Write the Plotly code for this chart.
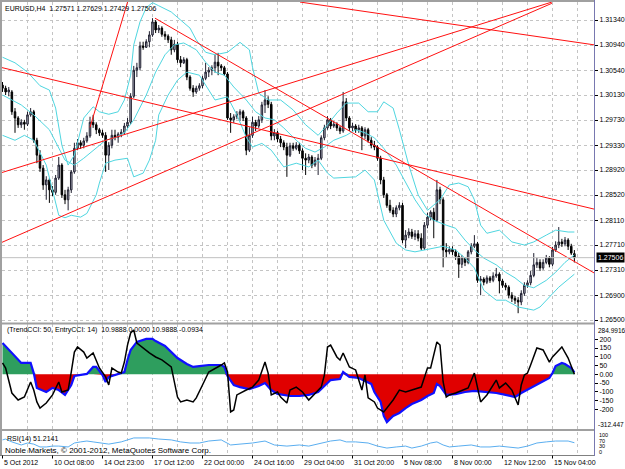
import plotly.graph_objects as go

# ---------------- data ----------------
OPEN = [1.3029,1.3024,1.3018,1.3018,1.2986,1.2976,1.2965,1.2969,1.2966,1.2981,
        1.2986,1.2940,1.2916,1.2895,1.2868,1.2876,1.2860,1.2856,1.2879,1.2900,
        1.2852,1.2844,1.2860,1.2889,1.2927,1.2936,1.2932,1.2939,1.2947,1.2969,
        1.2965,1.2957,1.2952,1.2948,1.2916,1.2932,1.2948,1.2945,1.2950,1.2953,
        1.2963,1.2969,1.3011,1.3053,1.3057,1.3092,1.3090,1.3099,1.3110,1.3131,
        1.3118,1.3121,1.3111,1.3108,1.3102,1.3086,1.3095,1.3070,1.3065,1.3070,
        1.3042,1.3024,1.3018,1.3024,1.3028,1.3040,1.3050,1.3053,1.3057,1.3066,
        1.3060,1.3057,1.3047,1.2976,1.2973,1.2978,1.2982,1.2986,1.2976,1.2924,
        1.2948,1.2969,1.2963,1.2973,1.2997,1.3005,1.2998,1.2947,1.2952,1.2942,
        1.2936,1.2929,1.2916,1.2931,1.2927,1.2932,1.2923,1.2911,1.2908,1.2913,
        1.2900,1.2908,1.2911,1.2944,1.2960,1.2973,1.2963,1.2966,1.2960,1.2955,
        1.3002,1.2976,1.2960,1.2963,1.2957,1.2960,1.2947,1.2957,1.2940,1.2932,
        1.2929,1.2911,1.2876,1.2852,1.2835,1.2827,1.2821,1.2831,1.2835,1.2779,
        1.2787,1.2792,1.2785,1.2789,1.2782,1.2766,1.2803,1.2816,1.2824,1.2811,
        1.2860,1.2844,1.2763,1.2760,1.2764,1.2760,1.2753,1.2740,1.2750,1.2743,
        1.2760,1.2769,1.2773,1.2714,1.2716,1.2711,1.2718,1.2714,1.2721,1.2724,
        1.2713,1.2706,1.2703,1.2690,1.2685,1.2682,1.2679,1.2693,1.2706,1.2710,
        1.2722,1.2739,1.2743,1.2734,1.2743,1.2750,1.2740,1.2763,1.2771,1.2776,
        1.2773,1.2779,1.2769,1.27571]
HIGH = [1.3034,1.3028,1.3026,1.3021,1.2992,1.2979,1.2974,1.2973,1.2986,1.2992,
        1.2989,1.2944,1.2924,1.2900,1.2882,1.2879,1.2866,1.2884,1.2913,1.2903,
        1.2860,1.2865,1.2892,1.2936,1.2942,1.2940,1.2944,1.2953,1.2978,1.2981,
        1.2969,1.2960,1.2957,1.2953,1.2937,1.2957,1.2957,1.2953,1.2958,1.2968,
        1.2976,1.3016,1.3060,1.3065,1.3099,1.3099,1.3103,1.3116,1.3137,1.3134,
        1.3126,1.3124,1.3116,1.3111,1.3107,1.3102,1.3099,1.3076,1.3074,1.3073,
        1.3045,1.3029,1.3028,1.3032,1.3044,1.3065,1.3058,1.3061,1.3078,1.3081,
        1.3063,1.3060,1.3050,1.2984,1.2982,1.2987,1.2990,1.2989,1.2979,1.2961,
        1.2978,1.2973,1.2979,1.3002,1.3021,1.3011,1.3002,1.2958,1.2955,1.2947,
        1.2940,1.2936,1.2936,1.2936,1.2937,1.2936,1.2927,1.2919,1.2918,1.2916,
        1.2913,1.2918,1.2948,1.2965,1.2979,1.2976,1.2971,1.2969,1.2963,1.3018,
        1.3008,1.2979,1.2968,1.2966,1.2965,1.2963,1.2961,1.2960,1.2945,1.2939,
        1.2932,1.2915,1.2881,1.2855,1.2844,1.2832,1.2835,1.2840,1.2839,1.2795,
        1.2798,1.2797,1.2795,1.2795,1.2790,1.2808,1.2823,1.2827,1.2831,1.2876,
        1.2865,1.2848,1.2774,1.2769,1.2769,1.2764,1.2758,1.2755,1.2751,1.2763,
        1.2774,1.2787,1.2776,1.2721,1.2719,1.2722,1.2721,1.2727,1.2734,1.2727,
        1.2716,1.2710,1.2706,1.2695,1.2689,1.2687,1.2698,1.2711,1.2714,1.2729,
        1.2758,1.2750,1.2748,1.2748,1.2755,1.2753,1.2768,1.2777,1.2800,1.2781,
        1.2784,1.2782,1.2773,1.27629]
LOW = [1.3018,1.3013,1.3011,1.2981,1.2952,1.2960,1.2960,1.2957,1.2963,1.2978,
       1.2936,1.2903,1.2889,1.2860,1.2844,1.2839,1.2850,1.2852,1.2876,1.2847,
       1.2837,1.2827,1.2855,1.2886,1.2924,1.2926,1.2927,1.2936,1.2944,1.2960,
       1.2950,1.2947,1.2944,1.2889,1.2892,1.2927,1.2940,1.2936,1.2945,1.2950,
       1.2960,1.2966,1.3008,1.3042,1.3053,1.3086,1.3089,1.3090,1.3107,1.3113,
       1.3113,1.3107,1.3102,1.3097,1.3078,1.3082,1.3065,1.3058,1.3063,1.3037,
       1.3020,1.3010,1.3015,1.3020,1.3024,1.3037,1.3042,1.3045,1.3049,1.3045,
       1.3052,1.3044,1.2973,1.2952,1.2968,1.2974,1.2971,1.2971,1.2916,1.2921,
       1.2944,1.2955,1.2960,1.2968,1.2984,1.2992,1.2940,1.2940,1.2937,1.2929,
       1.2924,1.2881,1.2913,1.2923,1.2924,1.2918,1.2892,1.2884,1.2903,1.2895,
       1.2897,1.2884,1.2908,1.2940,1.2957,1.2958,1.2960,1.2955,1.2950,1.2952,
       1.2971,1.2955,1.2955,1.2952,1.2952,1.2924,1.2942,1.2936,1.2927,1.2924,
       1.2907,1.2869,1.2847,1.2831,1.2823,1.2816,1.2816,1.2827,1.2774,1.2766,
       1.2782,1.2781,1.2779,1.2777,1.2763,1.2763,1.2798,1.2811,1.2782,1.2808,
       1.2837,1.2735,1.2751,1.2756,1.2755,1.2747,1.2718,1.2734,1.2737,1.2740,
       1.2756,1.2766,1.2710,1.2690,1.2706,1.2708,1.2710,1.2711,1.2718,1.2693,
       1.2702,1.2698,1.2685,1.2679,1.2676,1.2661,1.2674,1.2689,1.2702,1.2706,
       1.2719,1.2734,1.2729,1.2731,1.2740,1.2735,1.2737,1.2760,1.2766,1.2768,
       1.2769,1.2763,1.2755,1.27429]
CLOSE = [1.3024,1.3018,1.3021,1.2986,1.2976,1.2965,1.2969,1.2966,1.2981,1.2986,
         1.2940,1.2916,1.2895,1.2868,1.2876,1.2860,1.2856,1.2879,1.2900,1.2852,
         1.2844,1.2860,1.2889,1.2927,1.2936,1.2932,1.2939,1.2947,1.2969,1.2965,
         1.2957,1.2952,1.2948,1.2916,1.2932,1.2948,1.2945,1.2950,1.2953,1.2963,
         1.2969,1.3011,1.3053,1.3057,1.3092,1.3090,1.3099,1.3110,1.3131,1.3118,
         1.3121,1.3111,1.3108,1.3102,1.3086,1.3095,1.3070,1.3065,1.3070,1.3042,
         1.3024,1.3018,1.3024,1.3028,1.3040,1.3050,1.3053,1.3057,1.3066,1.3060,
         1.3057,1.3047,1.2976,1.2973,1.2978,1.2982,1.2986,1.2976,1.2924,1.2948,
         1.2969,1.2963,1.2973,1.2997,1.3005,1.2998,1.2947,1.2952,1.2942,1.2936,
         1.2929,1.2916,1.2931,1.2927,1.2932,1.2923,1.2911,1.2908,1.2913,1.2900,
         1.2908,1.2911,1.2944,1.2960,1.2973,1.2963,1.2966,1.2960,1.2955,1.3002,
         1.2976,1.2960,1.2963,1.2957,1.2960,1.2947,1.2957,1.2940,1.2932,1.2929,
         1.2911,1.2876,1.2852,1.2835,1.2827,1.2821,1.2831,1.2835,1.2779,1.2787,
         1.2792,1.2785,1.2789,1.2782,1.2766,1.2803,1.2816,1.2824,1.2811,1.2860,
         1.2844,1.2763,1.2760,1.2764,1.2760,1.2753,1.2740,1.2750,1.2743,1.2760,
         1.2769,1.2773,1.2714,1.2716,1.2711,1.2718,1.2714,1.2721,1.2724,1.2713,
         1.2706,1.2703,1.2690,1.2685,1.2682,1.2679,1.2693,1.2706,1.2710,1.2722,
         1.2739,1.2743,1.2734,1.2743,1.2750,1.2740,1.2763,1.2771,1.2776,1.2773,
         1.2779,1.2769,1.2758,1.27506]

PRICE_TICKS = [1.31340,1.30937,1.30533,1.30130,1.29727,1.29323,1.28920,
               1.28517,1.28113,1.27710,1.27307,1.26903,1.26500]
PRICE_TICK_TEXT = ["1.31340","1.30940","1.30540","1.30130","1.29730","1.29330","1.28920",
                   "1.28520","1.28110","1.27710","1.27310","1.26900","1.26500"]
LAST_PRICE = 1.27506

TIME_LABEL_BARS = [0,16,32,48,64,80,96,112,128,144,160,176]
TIME_LABELS = ["5 Oct 2012","10 Oct 08:00","14 Oct 23:00","17 Oct 12:00","22 Oct 00:00",
               "24 Oct 16:00","29 Oct 04:00","31 Oct 20:00","5 Nov 08:00","8 Nov 00:00",
               "12 Nov 12:00","15 Nov 04:00"]

BB_UP_X = [0,4,8,12,15,17,19,21,23,26,29,31,34,37,39,41,42,44,46,48,50,54,57,60,62,65,68,72,76,79,
           80,82,85,89,93,97,101,104,107,110,114,117,120,122,125,127,130,133,136,140,143,146,149,151,
           153,155,159,163,167,170,174,177,181,183]
BB_UP = [1.3074,1.3065,1.3050,1.3028,1.3021,1.2992,1.2932,1.2900,1.2916,1.2976,1.2994,1.2986,1.2982,
         1.2986,1.3005,1.3045,1.3094,1.3131,1.3154,1.3162,1.3157,1.3147,1.3134,1.3121,1.3102,1.3082,
         1.3078,1.3082,1.3098,1.3086,1.3058,1.3016,1.3005,1.3005,1.2989,1.2965,1.2948,1.2965,1.2984,
         1.3000,1.3000,1.2986,1.2986,1.3002,1.2992,1.2957,1.2900,1.2852,1.2827,1.2844,1.2868,1.2871,
         1.2865,1.2844,1.2803,1.2790,1.2795,1.2776,1.2771,1.2776,1.2787,1.2795,1.2792,1.2792]
BB_MID_X = [0,6,10,15,20,23,26,30,33,36,39,42,46,49,52,55,58,62,65,68,71,74,78,81,84,87,90,94,97,100,
            103,106,110,113,116,119,122,126,129,132,135,138,142,145,148,151,154,158,161,164,167,170,
            174,177,180,183]
BB_MID = [1.3013,1.2997,1.2981,1.2957,1.2908,1.2900,1.2911,1.2927,1.2940,1.2944,1.2952,1.2973,1.3013,
          1.3050,1.3078,1.3094,1.3097,1.3086,1.3066,1.3050,1.3045,1.3026,1.3005,1.2986,1.2976,1.2973,
          1.2960,1.2940,1.2927,1.2921,1.2929,1.2940,1.2948,1.2957,1.2952,1.2944,1.2927,1.2900,1.2871,
          1.2844,1.2822,1.2811,1.2803,1.2798,1.2779,1.2763,1.2750,1.2739,1.2727,1.2718,1.2706,1.2702,
          1.2714,1.2727,1.2743,1.2755]
BB_LOW_X = [0,4,7,10,14,16,18,20,22,25,27,30,31,33,36,40,42,45,47,49,50,53,56,59,63,65,68,72,75,78,
            80,83,86,90,94,98,101,104,106,113,116,119,122,126,129,132,135,138,141,145,148,151,154,158,
            161,165,170,172,175,178,183]
BB_LOW = [1.2948,1.2940,1.2948,1.2940,1.2900,1.2860,1.2819,1.2815,1.2819,1.2816,1.2822,1.2852,1.2871,
          1.2903,1.2908,1.2911,1.2881,1.2887,1.2908,1.2940,1.2981,1.3013,1.3037,1.3050,1.3045,1.3029,
          1.3005,1.3010,1.2981,1.2945,1.2929,1.2935,1.2924,1.2897,1.2903,1.2897,1.2908,1.2887,1.2879,
          1.2881,1.2892,1.2876,1.2811,1.2774,1.2763,1.2760,1.2763,1.2766,1.2769,1.2763,1.2750,1.2734,
          1.2698,1.2682,1.2682,1.2671,1.2666,1.2671,1.2687,1.2703,1.2724]

# red trend lines: (bar0, price0, bar1, price1)
TRENDLINES = [(28.0,1.2961,40.2,1.3166),
              (-0.8,1.3058,189.3,1.2829),
              (48.8,1.3137,189.3,1.2726),
              (-0.8,1.2887,175.8,1.3163),
              (-0.8,1.2774,175.8,1.3161),
              (95.2,1.3163,189.3,1.3094)]

TREND_CCI_X = [0,2,6,9,10,11,14,16,18,20,22,23,25,27,29,30,32,33,34,37,39,40,41,43,46,48,49,52,54,56,
               59,61,63,66,70,71,72,74,76,79,82,84,86,88,92,95,98,101,103,105,108,109,111,114,116,118,
               119,121,122,123,125,127,129,131,134,136,138,139,140,142,145,148,151,154,158,161,164,166,
               169,172,175,176,177,179,180,182,183]
TREND_CCI = [179,139,65,65,7,-78,-101,-78,-90,-118,-61,-10,-4,2,42,42,-4,-44,-15,2,13,82,139,185,202,202,
             190,162,127,93,59,42,47,53,53,42,-10,-61,-73,-84,-67,-50,-90,-112,-124,-124,-118,-101,-67,
             -33,-27,13,-15,-21,-38,-55,-101,-158,-238,-273,-238,-221,-193,-170,-147,-124,-107,-55,-67,
             -118,-113,-101,-95,-101,-107,-118,-130,-107,-78,-50,-21,7,47,65,59,36,10.9888]
ENTRY_CCI_X = [0,1,3,5,7,9,10,11,12,14,16,18,19,21,22,23,24,26,27,29,31,33,34,35,37,38,39,40,41,42,
               43,45,47,49,51,54,55,56,57,59,61,62,64,66,70,71,72,73,74,75,78,80,82,84,85,86,88,89,91,
               92,94,96,98,100,102,103,104,105,107,108,109,111,113,115,116,117,119,120,122,123,125,127,
               129,131,134,136,137,139,140,141,142,143,145,149,151,153,155,158,159,161,163,165,166,167,
               168,169,171,173,175,176,179,181,183]
ENTRY_CCI = [65,36,-107,-147,-130,-44,-90,-158,-193,-164,-118,-44,-101,-90,13,127,156,127,93,122,36,-15,
             -61,36,13,7,70,167,236,253,179,150,122,99,82,42,-44,-130,-158,-147,-158,-135,-61,13,53,65,
             13,-215,-204,-118,-90,-73,-33,70,7,-118,-101,-130,-164,-90,-73,-101,-147,-107,-73,-4,156,
             167,99,82,122,42,25,-90,-4,-135,-158,-193,-215,-193,-147,-90,-101,-90,-73,36,36,185,167,
             -44,-130,-118,-107,-78,7,-158,-118,-33,-78,-50,-90,-175,-61,-4,7,53,150,139,70,99,156,93,
             -0.0934]

RSI_X = [0,1,3,6,8,10,12,14,16,18,21,23,25,27,29,31,34,38,40,42,44,47,50,54,57,60,63,66,70,73,76,80,
         84,87,91,95,98,102,105,108,110,113,117,120,123,126,129,131,134,137,139,141,143,146,150,153,
         156,159,162,165,168,171,174,177,181,183]
RSI = [64,68,55,41,50,45,32,32,36,36,32,50,55,59,55,50,45,55,64,73,73,73,68,64,55,50,50,59,64,41,45,
       50,59,41,36,41,36,50,59,64,55,55,50,36,27,32,36,27,36,50,55,41,32,36,41,32,32,36,32,27,36,50,
       55,59,59,51.2141]

# ---------------- layout helpers (pixel geometry) ----------------
W, H = 625, 469
X_LEFT, X_RIGHT = 2, 594
BAR0_PX, BAR_PX = 2.5, 3.125


def fx(px):
    return px / W


def fy(py):
    return 1 - py / H


def bar_at(px):
    return (px - BAR0_PX) / BAR_PX


XR = [bar_at(X_LEFT), bar_at(X_RIGHT)]
bars = list(range(len(CLOSE)))

FONT = "Liberation Sans, Arial, sans-serif"
GRID = "#C4C4C4"
BAND = "#4FD6E0"

fig = go.Figure()

# Bollinger-style bands
for xs, ys in ((BB_UP_X, BB_UP), (BB_MID_X, BB_MID), (BB_LOW_X, BB_LOW)):
    fig.add_trace(go.Scatter(x=xs, y=ys, mode="lines", line=dict(color=BAND, width=1),
                             xaxis="x", yaxis="y", hoverinfo="skip", showlegend=False))

# trend lines
for b0, p0, b1, p1 in TRENDLINES:
    fig.add_trace(go.Scatter(x=[b0, b1], y=[p0, p1], mode="lines",
                             line=dict(color="#FF1010", width=1),
                             xaxis="x", yaxis="y", hoverinfo="skip", showlegend=False))

# candles
fig.add_trace(go.Candlestick(
    x=bars, open=OPEN, high=HIGH, low=LOW, close=CLOSE, xaxis="x", yaxis="y",
    increasing=dict(line=dict(color="#202030", width=1), fillcolor="#B4B4C4"),
    decreasing=dict(line=dict(color="#000000", width=1), fillcolor="#000000"),
    whiskerwidth=0, hoverinfo="skip", showlegend=False))

# CCI pane
pos = [max(v, 0) for v in TREND_CCI]
neg = [min(v, 0) for v in TREND_CCI]
fig.add_trace(go.Scatter(x=TREND_CCI_X, y=pos, mode="lines", line=dict(width=0, color="#2E9E5E"),
                         fill="tozeroy", fillcolor="#2E9E5E", xaxis="x2", yaxis="y2",
                         hoverinfo="skip", showlegend=False))
fig.add_trace(go.Scatter(x=TREND_CCI_X, y=neg, mode="lines", line=dict(width=0, color="#E00000"),
                         fill="tozeroy", fillcolor="#E00000", xaxis="x2", yaxis="y2",
                         hoverinfo="skip", showlegend=False))
fig.add_trace(go.Scatter(x=TREND_CCI_X, y=TREND_CCI, mode="lines", line=dict(width=2.2, color="#1010FF"),
                         xaxis="x2", yaxis="y2", hoverinfo="skip", showlegend=False))
fig.add_trace(go.Scatter(x=ENTRY_CCI_X, y=ENTRY_CCI, mode="lines", line=dict(width=1.5, color="#000000"),
                         xaxis="x2", yaxis="y2", hoverinfo="skip", showlegend=False))

# RSI pane
fig.add_trace(go.Scatter(x=RSI_X, y=RSI, mode="lines", line=dict(width=1, color="#5AAEF0"),
                         xaxis="x3", yaxis="y3", hoverinfo="skip", showlegend=False))

xgrid = dict(range=XR, domain=[fx(X_LEFT), fx(X_RIGHT)], showgrid=True, gridcolor=GRID,
             griddash="3px,3px", gridwidth=1, tickmode="linear", tick0=0, dtick=8,
             showticklabels=False, ticks="", zeroline=False, showline=False, fixedrange=True,
             rangeslider=dict(visible=False))
fig.update_layout(
    width=W, height=H, margin=dict(l=0, r=0, t=0, b=0),
    paper_bgcolor="white", plot_bgcolor="white",
    font=dict(family=FONT, size=7, color="black"),
    xaxis=dict(**xgrid, anchor="y"),
    xaxis2=dict(**xgrid, anchor="y2", matches="x"),
    xaxis3=dict(**xgrid, anchor="y3", matches="x"),
    yaxis=dict(domain=[fy(323), fy(2)], range=[1.26452, 1.31631], side="right", anchor="x",
               tickmode="array", tickvals=PRICE_TICKS, ticktext=PRICE_TICK_TEXT,
               showgrid=True, gridcolor=GRID, griddash="3px,3px", zeroline=False,
               ticks="outside", ticklen=3, tickcolor="#000000", fixedrange=True,
               tickfont=dict(size=7, family=FONT, color="black")),
    yaxis2=dict(domain=[fy(429), fy(324)], range=[-312.6, 287.4], side="right", anchor="x2",
                tickmode="array", tickvals=[200, 150, 100, 50, 0, -50, -100, -150, -200],
                ticktext=["200", "150", "100", "50", "0.00", "-50", "-100", "-150", "-200"],
                showgrid=False, zeroline=False, ticks="outside", ticklen=3, tickcolor="#000000",
                fixedrange=True, tickfont=dict(size=7, family=FONT, color="black")),
    yaxis3=dict(domain=[fy(454), fy(432)], range=[0, 100], side="right", anchor="x3",
                showticklabels=False, showgrid=False, zeroline=False, ticks="", fixedrange=True),
)

shapes = []
BORDER = "#A0A0A0"
# bid line
shapes.append(dict(type="line", xref="paper", yref="y", x0=fx(X_LEFT), x1=fx(X_RIGHT),
                   y0=LAST_PRICE, y1=LAST_PRICE, line=dict(color="#C0C0C0", width=1)))
# frame and separators
shapes.append(dict(type="line", xref="paper", yref="paper", x0=0, x1=fx(X_RIGHT), y0=fy(1), y1=fy(1),
                   line=dict(color=BORDER, width=2)))
shapes.append(dict(type="line", xref="paper", yref="paper", x0=fx(1), x1=fx(1), y0=fy(0), y1=fy(456),
                   line=dict(color=BORDER, width=2)))
for yy in (323.6, 430.0):
    shapes.append(dict(type="line", xref="paper", yref="paper", x0=0, x1=fx(X_RIGHT), y0=fy(yy), y1=fy(yy),
                       line=dict(color=BORDER, width=2)))
shapes.append(dict(type="line", xref="paper", yref="paper", x0=0, x1=fx(X_RIGHT), y0=fy(455.5), y1=fy(455.5),
                   line=dict(color="#808080", width=1)))
shapes.append(dict(type="line", xref="paper", yref="paper", x0=fx(594.5), x1=fx(594.5), y0=fy(0), y1=fy(456),
                   line=dict(color="#7878B0", width=1)))
# time ticks
for b in TIME_LABEL_BARS:
    shapes.append(dict(type="line", xref="x3", yref="paper", x0=b, x1=b, y0=fy(455.5), y1=fy(458.5),
                       line=dict(color="#000000", width=1)))
fig.update_layout(shapes=shapes)

ann = []
for b, t in zip(TIME_LABEL_BARS, TIME_LABELS):
    ann.append(dict(x=b, y=fy(462.5), xref="x3", yref="paper", text=t, showarrow=False,
                    xanchor="left", yanchor="middle", xshift=-1, font=dict(size=7, family=FONT)))
texts = [
    ("EURUSD,H4  1.27571 1.27629 1.27429 1.27506", 3, 8.5),
    ("(TrendCCI: 50, EntryCCI: 14)  10.9888 0.0000 10.9888 -0.0934", 5, 330),
    ("RSI(14) 51.2141", 5, 439),
]
for t, x, y in texts:
    ann.append(dict(x=fx(x), y=fy(y), xref="paper", yref="paper", text=t, showarrow=False,
                    xanchor="left", yanchor="middle", font=dict(size=7, family=FONT)))
ann.append(dict(x=fx(3), y=fy(450), xref="paper", yref="paper",
                text="Noble Markets, © 2001-2012, MetaQuotes Software Corp.", showarrow=False,
                xanchor="left", yanchor="middle", font=dict(size=8, family=FONT)))
for t, y in (("284.9916", 330), ("-312.447", 424)):
    ann.append(dict(x=fx(596), y=fy(y), xref="paper", yref="paper", text=t, showarrow=False,
                    xanchor="left", yanchor="middle", font=dict(size=6.5, family=FONT)))
for t, y in (("100", 435), ("70", 440.5), ("30", 446), ("0", 451.5)):
    ann.append(dict(x=fx(597), y=fy(y), xref="paper", yref="paper", text=t, showarrow=False,
                    xanchor="left", yanchor="middle", font=dict(size=5.5, family=FONT)))
ann.append(dict(x=fx(596), y=LAST_PRICE, xref="paper", yref="y", text="1.27506", showarrow=False,
                xanchor="left", yanchor="middle", bgcolor="#000000", borderpad=1,
                font=dict(size=7, family=FONT, color="white")))
fig.update_layout(annotations=ann)

fig.write_html("out.html")
